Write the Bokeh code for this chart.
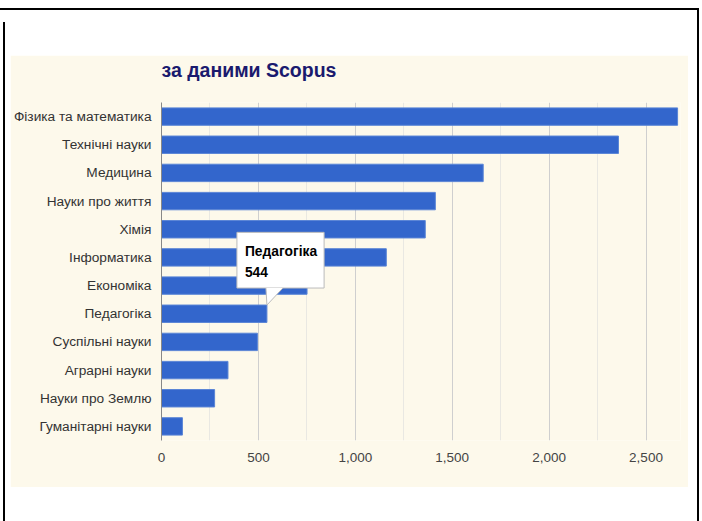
from bokeh.plotting import figure
from bokeh.models import Range1d, FixedTicker, NumeralTickFormatter, Label, ColumnDataSource
from bokeh.layouts import column
from bokeh.embed import file_html
from bokeh.resources import INLINE

# ---- data ----
categories = ["Фізика та математика", "Технічні науки", "Медицина", "Науки про життя",
              "Хімія", "Інформатика", "Економіка", "Педагогіка", "Суспільні науки",
              "Аграрні науки", "Науки про Землю", "Гуманітарні науки"]
values = [2663, 2358, 1660, 1413, 1361, 1160, 751, 544, 495, 343, 274, 108]
x_ticks = [0, 500, 1000, 1500, 2000, 2500]
x_minor = [250, 750, 1250, 1750, 2250, 2750]
title_text = "за даними Scopus"
tooltip_index = 7

FONT = "Liberation Sans"
CREAM = "#fdf9eb"
BLUE = "#3366cc"

n = len(categories)
ypos = [n - 1 - i for i in range(n)]
bar_h = 0.618

src = ColumnDataSource(dict(y=ypos, v=values, cat=categories))

p = figure(width=678, height=432, output_backend="svg", toolbar_location=None,
           x_range=Range1d(0, 2678), y_range=Range1d(-0.5, n - 0.5),
           min_border_left=150, min_border_right=8, min_border_top=47, min_border_bottom=47,
           margin=(33, 0, 0, 5))
p.background_fill_color = CREAM
p.border_fill_color = CREAM
p.outline_line_color = None

# second (blank) line keeps the title up, away from the plotting area
p.title.text = title_text + "\n "
p.title.text_font = FONT
p.title.text_font_size = "19.5px"
p.title.text_font_style = "bold"
p.title.text_color = "#1a1a6e"
p.title.text_line_height = 1.0
p.title.align = "left"
p.title.standoff = 0

p.hbar(y="y", left=0, right="v", height=bar_h, source=src,
       fill_color=BLUE, line_color="#5a85d6", line_width=1)

# x axis
p.xaxis.ticker = FixedTicker(ticks=x_ticks, minor_ticks=x_minor)
p.xaxis.formatter = NumeralTickFormatter(format="0,0")
p.xaxis.axis_line_color = None
p.xaxis.major_tick_line_color = None
p.xaxis.minor_tick_line_color = None
p.xaxis.major_tick_out = 0
p.xaxis.major_tick_in = 0
p.xaxis.minor_tick_out = 0
p.xaxis.major_label_standoff = 12
p.xaxis.major_label_text_font = FONT
p.xaxis.major_label_text_font_size = "13.5px"
p.xaxis.major_label_text_color = "#444444"

# y axis
p.yaxis.ticker = FixedTicker(ticks=ypos)
p.yaxis.major_label_overrides = {y: c for y, c in zip(ypos, categories)}
p.yaxis.axis_line_color = "#888888"
p.yaxis.major_tick_line_color = None
p.yaxis.minor_tick_line_color = None
p.yaxis.major_tick_out = 0
p.yaxis.major_tick_in = 0
p.yaxis.major_label_standoff = 10
p.yaxis.major_label_text_font = FONT
p.yaxis.major_label_text_font_size = "13.7px"
p.yaxis.major_label_text_color = "#333333"

p.ygrid.grid_line_color = None
p.xgrid.grid_line_color = "#cfcfcf"
p.xgrid.minor_grid_line_color = "#e9e8e2"

# tooltip
tv = values[tooltip_index]
ty = ypos[tooltip_index] + bar_h / 2
px_x = 520 / 2678.0
px_y = 338 / n
tip_text = f"{categories[tooltip_index]}\n{tv}"
pad = (8, 7, 12, 8)
shadow = Label(x=tv, y=ty, x_offset=-28, y_offset=15, text=tip_text,
               text_font=FONT, text_font_size="13.8px", text_font_style="bold",
               text_line_height=1.38,
               text_alpha=0, text_align="left", text_baseline="bottom",
               background_fill_color="#000000", background_fill_alpha=0.12,
               border_line_color=None, padding=pad)
p.add_layout(shadow)
tip = Label(x=tv, y=ty, x_offset=-30, y_offset=17, text=tip_text,
            text_font=FONT, text_font_size="13.8px", text_font_style="bold",
            text_line_height=1.38,
            text_color="#000000", text_align="left", text_baseline="bottom",
            background_fill_color="#ffffff", border_line_color="#bbbbbb",
            padding=pad)
p.add_layout(tip)

tail_x = [tv, tv - 1 / px_x, tv + 16 / px_x]
tail_y = [ty, ty + 17 / px_y, ty + 17 / px_y]
r = p.patch(tail_x, tail_y, fill_color="#ffffff", line_color=None)
r.level = "overlay"
r2 = p.multi_line([[tail_x[1], tail_x[0], tail_x[2]]], [[tail_y[1], tail_y[0], tail_y[2]]],
                  line_color="#bbbbbb", line_width=1)
r2.level = "overlay"

inner = column(p, height=499, margin=(12, 0, 0, 3),
               styles={"border-left": "2px solid black"})
layout = column(inner, width=699, height=513, margin=(8, 0, 0, 0),
                styles={"border-top": "2px solid black", "border-right": "2px solid black",
                        "background-color": "white", "box-sizing": "border-box"})

open("out.html", "w").write(file_html(layout, INLINE))
